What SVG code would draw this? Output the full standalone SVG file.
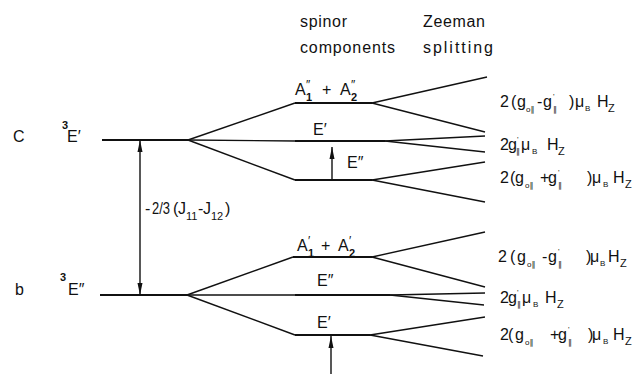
<svg xmlns="http://www.w3.org/2000/svg" width="635" height="374" viewBox="0 0 635 374">
<style>
text{font-family:"Liberation Sans","DejaVu Sans",sans-serif;fill:#111;font-size:16px}
.s{font-size:11px}
.p{font-size:12px}
.xs{font-size:8px}
.b{font-weight:bold}
.lv{stroke:#111;stroke-width:2.2;fill:none}
.fn{stroke:#111;stroke-width:1.4;fill:none}
</style>
<defs>
<marker id="ah" markerUnits="userSpaceOnUse" markerWidth="12" markerHeight="6" refX="12" refY="3" orient="auto"><path d="M0,0.5 L12,3 L0,5.5 z" fill="#111"/></marker>
</defs>
<g id="headers">
<text x="300" y="27" textLength="47" lengthAdjust="spacing">spinor</text>
<text x="300" y="53" textLength="95" lengthAdjust="spacing">components</text>
<text x="423" y="27" textLength="62" lengthAdjust="spacing">Zeeman</text>
<text x="423" y="53" textLength="70" lengthAdjust="spacing">splitting</text>
</g>
<g id="level-c">
<line class="lv" x1="102" y1="140" x2="188" y2="140"/>
<text x="13" y="142">C</text>
<text><tspan class="s b" x="62" y="129">3</tspan><tspan x="67" y="142">E′</tspan></text>
</g>
<g id="level-b">
<line class="lv" x1="100" y1="295" x2="187" y2="295"/>
<text x="15" y="295">b</text>
<text><tspan class="s b" x="60" y="281">3</tspan><tspan x="68" y="295">E″</tspan></text>
</g>
<g id="c-A">
<line class="lv" x1="295" y1="103" x2="372" y2="103"/>
<text><tspan x="295" y="95">A</tspan><tspan class="p" x="306" y="89">″</tspan><tspan class="s b" x="306" y="101">1</tspan><tspan x="322" y="95">+</tspan><tspan x="340" y="95">A</tspan><tspan class="p" x="351" y="89">″</tspan><tspan class="s b" x="351" y="101">2</tspan></text>
</g>
<g id="c-Ep">
<line class="lv" x1="295" y1="141" x2="385" y2="141"/>
<text x="313" y="135">E′</text>
</g>
<g id="c-Epp">
<line class="lv" x1="295" y1="180" x2="372" y2="180"/>
<text x="347" y="168">E″</text>
</g>
<g id="b-A">
<line class="lv" x1="293" y1="257" x2="372" y2="257"/>
<text><tspan x="297" y="251">A</tspan><tspan class="p" x="308" y="245">′</tspan><tspan class="s b" x="308" y="257">1</tspan><tspan x="321" y="251">+</tspan><tspan x="338" y="251">A</tspan><tspan class="p" x="349" y="245">′</tspan><tspan class="s b" x="349" y="257">2</tspan></text>
</g>
<g id="b-Epp">
<line class="lv" x1="295" y1="295" x2="390" y2="295"/>
<text x="317" y="286">E″</text>
</g>
<g id="b-Ep">
<line class="lv" x1="295" y1="335" x2="370" y2="335"/>
<text x="317" y="328">E′</text>
</g>
<g id="gap-label">
<text><tspan x="145" y="214">-</tspan></text>
<text x="152" y="214" textLength="18" lengthAdjust="spacingAndGlyphs">2/3</text>
<text><tspan x="173" y="214">(</tspan><tspan x="178" y="214">J</tspan><tspan class="s" x="186" y="220">11</tspan><tspan x="198" y="214">-</tspan><tspan x="203" y="214">J</tspan><tspan class="s" x="211" y="220">12</tspan><tspan x="225" y="214">)</tspan></text>
</g>
<g id="z-c1">
<text><tspan x="500" y="107">2</tspan><tspan x="511" y="107">(</tspan><tspan x="517" y="107">g</tspan><tspan class="xs" x="526" y="112">o∥</tspan><tspan x="537" y="107">-</tspan><tspan x="543" y="107">g</tspan><tspan class="xs" x="553" y="99">'</tspan><tspan class="xs" x="553" y="112">∥</tspan><tspan x="569" y="107">)</tspan><tspan x="575" y="107">μ</tspan><tspan class="xs" x="585" y="111">B</tspan><tspan x="597" y="107">H</tspan><tspan class="s" x="608" y="112">Z</tspan></text>
</g>
<g id="z-c2">
<text><tspan x="500" y="150">2</tspan><tspan x="508" y="150">g</tspan><tspan class="xs" x="517" y="142">'</tspan><tspan class="xs" x="516" y="154">∥</tspan><tspan x="521" y="150">μ</tspan><tspan class="xs" x="532" y="154">B</tspan><tspan x="547" y="150">H</tspan><tspan class="s" x="558" y="155">Z</tspan></text>
</g>
<g id="z-c3">
<text><tspan x="500" y="183">2</tspan><tspan x="510" y="183">(</tspan><tspan x="515" y="183">g</tspan><tspan class="xs" x="525" y="188">o∥</tspan><tspan x="540" y="183">+</tspan><tspan x="548" y="183">g</tspan><tspan class="xs" x="558" y="175">'</tspan><tspan class="xs" x="558" y="188">∥</tspan><tspan x="587" y="183">)</tspan><tspan x="592" y="183">μ</tspan><tspan class="xs" x="603" y="187">B</tspan><tspan x="613" y="183">H</tspan><tspan class="s" x="625" y="188">Z</tspan></text>
</g>
<g id="z-b1">
<text><tspan x="498" y="262">2</tspan><tspan x="510" y="262">(</tspan><tspan x="517" y="262">g</tspan><tspan class="xs" x="527" y="267">o∥</tspan><tspan x="542" y="262">-</tspan><tspan x="548" y="262">g</tspan><tspan class="xs" x="558" y="254">'</tspan><tspan class="xs" x="558" y="267">∥</tspan><tspan x="586" y="262">)</tspan><tspan x="590" y="262">μ</tspan><tspan class="xs" x="600" y="266">B</tspan><tspan x="608" y="262">H</tspan><tspan class="s" x="620" y="267">Z</tspan></text>
</g>
<g id="z-b2">
<text><tspan x="500" y="303">2</tspan><tspan x="508" y="303">g</tspan><tspan class="xs" x="517" y="295">'</tspan><tspan class="xs" x="517" y="307">∥</tspan><tspan x="522" y="303">μ</tspan><tspan class="xs" x="533" y="307">B</tspan><tspan x="545" y="303">H</tspan><tspan class="s" x="557" y="308">Z</tspan></text>
</g>
<g id="z-b3">
<text><tspan x="500" y="340">2</tspan><tspan x="508" y="340">(</tspan><tspan x="515" y="340">g</tspan><tspan class="xs" x="525" y="345">o∥</tspan><tspan x="550" y="340">+</tspan><tspan x="558" y="340">g</tspan><tspan class="xs" x="568" y="332">'</tspan><tspan class="xs" x="568" y="345">∥</tspan><tspan x="588" y="340">)</tspan><tspan x="592" y="340">μ</tspan><tspan class="xs" x="603" y="344">B</tspan><tspan x="613" y="340">H</tspan><tspan class="s" x="625" y="345">Z</tspan></text>
</g>
<g id="connectors">
<line class="fn" x1="188" y1="140" x2="295" y2="103"/>
<line class="fn" x1="188" y1="140" x2="295" y2="141"/>
<line class="fn" x1="188" y1="140" x2="295" y2="180"/>
<line class="fn" x1="372" y1="103" x2="487" y2="77"/>
<line class="fn" x1="372" y1="103" x2="485" y2="132"/>
<line class="fn" x1="385" y1="141" x2="485" y2="136"/>
<line class="fn" x1="385" y1="141" x2="485" y2="152"/>
<line class="fn" x1="372" y1="180" x2="485" y2="162"/>
<line class="fn" x1="372" y1="180" x2="485" y2="202"/>
<line class="fn" x1="187" y1="295" x2="293" y2="257"/>
<line class="fn" x1="187" y1="295" x2="295" y2="295"/>
<line class="fn" x1="187" y1="295" x2="295" y2="335"/>
<line class="fn" x1="372" y1="257" x2="485" y2="232"/>
<line class="fn" x1="372" y1="257" x2="485" y2="287"/>
<line class="fn" x1="390" y1="295" x2="485" y2="293"/>
<line class="fn" x1="390" y1="295" x2="484" y2="305"/>
<line class="fn" x1="370" y1="335" x2="485" y2="317"/>
<line class="fn" x1="370" y1="335" x2="483" y2="356"/>
<line class="fn" x1="140" y1="218" x2="140" y2="140" marker-end="url(#ah)"/>
<line class="fn" x1="140" y1="218" x2="140" y2="295" marker-end="url(#ah)"/>
<line class="fn" x1="332" y1="180" x2="332" y2="147" marker-end="url(#ah)"/>
<line class="fn" x1="331" y1="374" x2="331" y2="336" marker-end="url(#ah)"/>
</g>
</svg>
